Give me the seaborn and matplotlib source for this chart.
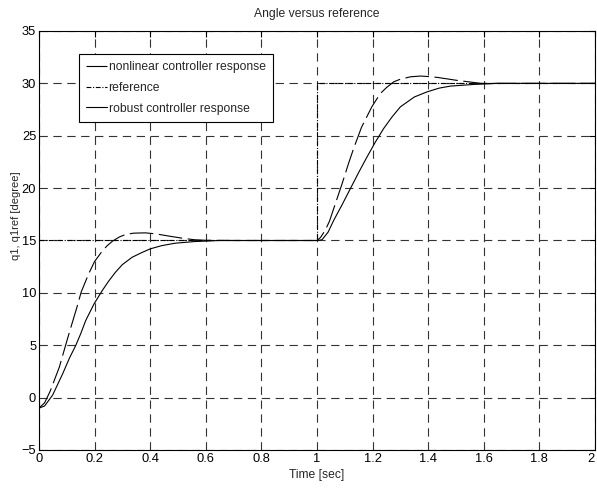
import numpy as np
import pandas as pd
import matplotlib
matplotlib.use("Agg")
import matplotlib.pyplot as plt
import seaborn as sns

# nonlinear controller response (dashed curve)
t_nonlin = [0.0, 0.02, 0.04, 0.06, 0.073, 0.087, 0.11, 0.135, 0.152, 0.18, 0.2, 0.225,
            0.245, 0.265, 0.29, 0.311, 0.34, 0.382, 0.418, 0.45, 0.477, 0.52, 0.56, 0.6,
            0.7, 1.0, 1.013, 1.03, 1.045, 1.062, 1.09, 1.114, 1.132, 1.16, 1.198, 1.228,
            1.25, 1.276, 1.3, 1.337, 1.373, 1.4, 1.433, 1.5, 1.59, 1.7, 2.0]
q_nonlin = [-1.0, -0.5, 0.6, 2.0, 2.9, 4.2, 6.3, 8.5, 10.1, 11.9, 13.0, 13.9,
            14.5, 14.95, 15.35, 15.57, 15.7, 15.73, 15.64, 15.5, 15.38, 15.2, 15.07, 15.02,
            15.0, 15.0, 15.3, 16.0, 16.85, 18.2, 20.4, 22.4, 23.8, 25.8, 27.8, 29.04,
            29.6, 30.15, 30.4, 30.63, 30.7, 30.65, 30.57, 30.3, 30.0, 30.0, 30.0]

# reference signal (step 15 -> 30 at t = 1)
t_ref = [0.0, 1.0, 1.0, 2.0]
q_ref = [15.0, 15.0, 30.0, 30.0]

# robust controller response (solid curve)
t_robust = [0.0, 0.02, 0.049, 0.085, 0.11, 0.132, 0.15, 0.168, 0.198, 0.227, 0.25, 0.275,
            0.3, 0.335, 0.37, 0.4, 0.44, 0.489, 0.56, 0.65, 1.0, 1.018, 1.04, 1.06, 1.09,
            1.12, 1.15, 1.18, 1.21, 1.24, 1.27, 1.3, 1.35, 1.397, 1.44, 1.48, 1.565, 1.65, 2.0]
q_robust = [-1.0, -0.8, 0.24, 2.27, 3.8, 4.97, 6.1, 7.36, 8.95, 10.2, 11.1, 11.97,
            12.7, 13.4, 13.85, 14.2, 14.5, 14.74, 14.9, 15.0, 15.0, 15.07, 15.8, 16.92, 18.4,
            19.95, 21.5, 22.98, 24.4, 25.7, 26.8, 27.76, 28.7, 29.2, 29.55, 29.74, 29.9, 30.0, 30.0]

x_ticks = [0, 0.2, 0.4, 0.6, 0.8, 1, 1.2, 1.4, 1.6, 1.8, 2]
x_ticklabels = ["0", "0.2", "0.4", "0.6", "0.8", "1", "1.2", "1.4", "1.6", "1.8", "2"]
y_ticks = [-5, 0, 5, 10, 15, 20, 25, 30, 35]

sns.set_style("white")
plt.rcParams['font.family'] = ['Liberation Sans', 'DejaVu Sans']
plt.rcParams['lines.scale_dashes'] = False

fig = plt.figure(figsize=(5.97, 4.88), dpi=100)
ax = fig.add_axes([39 / 597, 38 / 488, 556 / 597, 419 / 488])

sns.lineplot(x=t_nonlin, y=q_nonlin, ax=ax, color='black', linewidth=0.8,
             estimator=None, sort=False, label='nonlinear controller response')
sns.lineplot(x=t_ref, y=q_ref, ax=ax, color='black', linewidth=0.8,
             estimator=None, sort=False, label='reference')
sns.lineplot(x=t_robust, y=q_robust, ax=ax, color='black', linewidth=0.8,
             estimator=None, sort=False, label='robust controller response')
ax.lines[0].set_dashes((17, 4))
ax.lines[1].set_dashes((3.5, 1.2, 0.8, 1.2))

ax.set_xlim(0, 2)
ax.set_ylim(-5, 35)
ax.set_xticks(x_ticks)
ax.set_xticklabels(x_ticklabels)
ax.set_yticks(y_ticks)
ax.tick_params(direction='in', length=4, width=0.8, labelsize=9.3, colors='black',
               top=True, right=True, pad=2)
ax.get_xticklabels()[-1].set_horizontalalignment('right')
ax.grid(True, color='#333333', linestyle=(0, (6, 4)), linewidth=0.8)
for s in ax.spines.values():
    s.set_color('black')
    s.set_linewidth(0.8)

ax.set_title('Angle versus reference', fontsize=8.7, pad=10)
ax.set_xlabel('Time [sec]', fontsize=8.7, labelpad=3)
ax.set_ylabel('q1, q1ref [degree]', fontsize=8.0)
ax.yaxis.set_label_coords(-0.033, 0.56)

leg = ax.legend(loc='upper left', bbox_to_anchor=(79 / 597, 1 - 54 / 488),
                bbox_transform=fig.transFigure, fontsize=8.7, frameon=True,
                fancybox=False, handlelength=1.75, handletextpad=0.1,
                labelspacing=0.72, borderpad=0.6, borderaxespad=0)
leg.get_frame().set_edgecolor('black')
leg.get_frame().set_linewidth(0.8)
leg.get_frame().set_alpha(1)

fig.savefig('out.png', dpi=100)
